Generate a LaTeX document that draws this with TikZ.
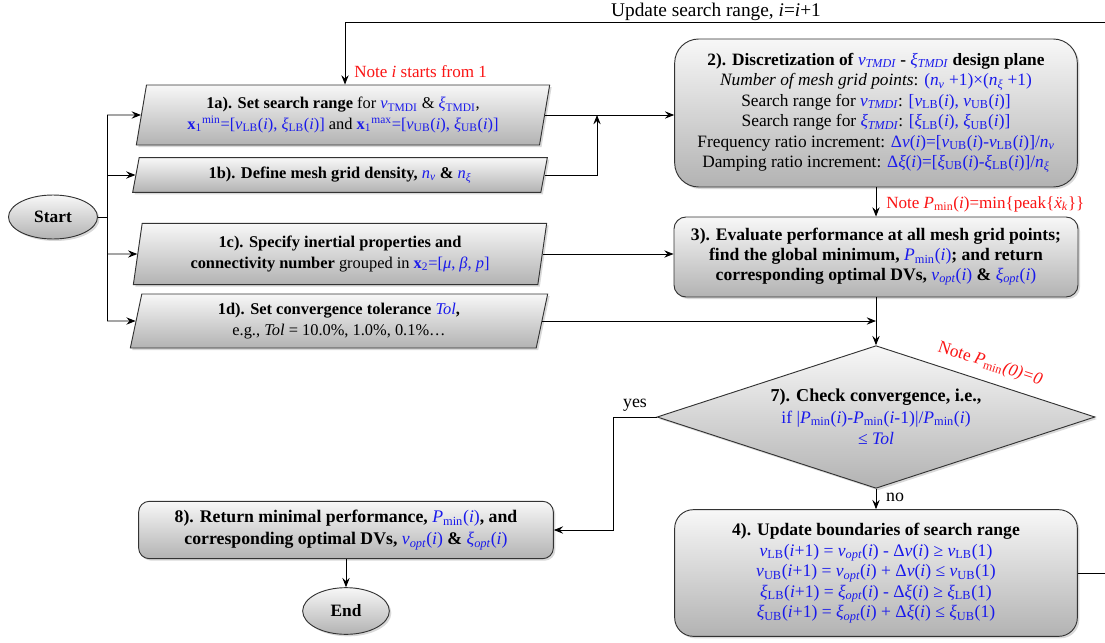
\documentclass[tikz,border=0pt]{standalone}
\usepackage{fontspec}
\setmainfont{Liberation Serif}
\usetikzlibrary{arrows.meta,shapes.geometric,shadows,calc}
\definecolor{tb}{RGB}{25,25,235}
\definecolor{tr}{RGB}{250,20,20}
\newcommand\sbs[1]{\textsubscript{#1}}
\newcommand\sps[1]{\textsuperscript{#1}}
\newcommand\bl[1]{{\color{tb}#1}}
\newcommand\myi{\textit{i}}
\newcommand\myxi{\textit{ξ}}
\newcommand\myv{\textit{v}}
\newcommand\fs[2]{\fontsize{#1}{#2}\selectfont}
\tikzset{
  box/.style={draw=black!80, line width=0.7pt, top color=black!3, bottom color=black!30,
    drop shadow={opacity=0.3,shadow xshift=1.5pt,shadow yshift=-1.5pt},
    align=center, font=\fs{12.3}{15.3}, inner sep=0pt},
  rbox/.style={box, rectangle, rounded corners=#1},
  para/.style={box, trapezium, trapezium left angle=#1, trapezium right angle={180-#1},
    trapezium stretches body=true},
  term/.style={box, ellipse, font=\fs{13}{15}\bfseries},
  dia/.style={box, diamond, aspect=3},
  arr/.style={-{Stealth[length=7pt,width=5.5pt,inset=2.5pt]}, line width=0.7pt},
  ln/.style={line width=0.7pt},
  lbl/.style={font=\fs{12.6}{15}, inner sep=0pt},
  note/.style={lbl, text=tr},
}
\begin{document}
\begin{tikzpicture}[x=0.75pt,y=-0.75pt]
\useasboundingbox (0,0) rectangle (1105,642);
% terminals
\node[term, minimum width=66.75pt, minimum height=33pt] (start) at (53,217) {Start};
\node[term, minimum width=65pt, minimum height=35pt] (end) at (346,611) {End};
% step 1 boxes
\node[para=74, minimum width=310pt, minimum height=45pt] (a1) at (343,115)
 {\textbf{1a). Set search range} for \bl{\myv\sbs{TMDI}} \& \bl{\myxi\sbs{TMDI}},\\
  \bl{\textbf{x}\sbs{1}\sps{min}=[\myv\sbs{LB}(\myi), \myxi\sbs{LB}(\myi)]} and
  \bl{\textbf{x}\sbs{1}\sps{max}=[\myv\sbs{UB}(\myi), \myxi\sbs{UB}(\myi)]}};
\node[para=68, minimum width=311pt, minimum height=26pt] (a2) at (340,175)
 {\textbf{1b). Define mesh grid density,} \bl{\textit{n\sbs{v}}} \textbf{\&} \bl{\textit{n\sbs{ξ}}}};
\node[para=76, minimum width=310pt, minimum height=46pt] (a3) at (340,254)
 {\textbf{1c). Specify inertial properties and}\\
  \textbf{connectivity number} grouped in \bl{\textbf{x}\sbs{2}=[\textit{μ}, \textit{β}, \textit{p}]}};
\node[para=72, minimum width=313pt, minimum height=40.5pt] (a4) at (339,321)
 {\textbf{1d). Set convergence tolerance} \bl{\textit{Tol}}\textbf{,}\\
  e.g., \textit{Tol} = 10.0\%, 1.0\%, 0.1\%…};
% step 2
\node[rbox=18pt, minimum width=302pt, minimum height=111pt, font=\fs{13}{15.3}] (s2) at (876,113)
 {\textbf{2). Discretization of} \bl{\textit{v\sbs{TMDI}}} \textbf{-} \bl{\textit{ξ\sbs{TMDI}}} \textbf{design plane}\\
  \textit{Number of mesh grid points}: \bl{(\textit{n\sbs{v}} +1)×(\textit{n\sbs{ξ}} +1)}\\
  Search range for \bl{\textit{v\sbs{TMDI}}}: \bl{[\myv\sbs{LB}(\myi), \myv\sbs{UB}(\myi)]}\\
  Search range for \bl{\textit{ξ\sbs{TMDI}}}: \bl{[\myxi\sbs{LB}(\myi), \myxi\sbs{UB}(\myi)]}\\
  Frequency ratio increment: \bl{Δ\myv(\myi)=[\myv\sbs{UB}(\myi)-\myv\sbs{LB}(\myi)]/\textit{n\sbs{v}}}\\
  Damping ratio increment: \bl{Δ\myxi(\myi)=[\myxi\sbs{UB}(\myi)-\myxi\sbs{LB}(\myi)]/\textit{n\sbs{ξ}}}};
% step 3
\node[rbox=9pt, minimum width=303pt, minimum height=60pt, font=\fs{13.2}{14.8}] (s3) at (876,257)
 {\textbf{3). Evaluate performance at all mesh grid points;}\\
  \textbf{find the global minimum,} \bl{\textit{P}\sbs{min}(\myi)}\textbf{; and return}\\
  \textbf{corresponding optimal DVs,} \bl{\textit{v\sbs{opt}}(\myi)} \textbf{\&} \bl{\textit{ξ\sbs{opt}}(\myi)}};
% step 7
\node[dia, minimum width=328.5pt, minimum height=107pt, font=\fs{13.2}{16}] (d7) at (876,417)
 {{\fs{13.6}{16}\textbf{7). Check convergence, i.e.,}}\\
  \bl{if |\textit{P}\sbs{min}(\myi)-\textit{P}\sbs{min}(\myi-1)|/\textit{P}\sbs{min}(\myi)}\\
  \bl{≤ \textit{Tol}}};
% step 4
\node[rbox=14pt, minimum width=302pt, minimum height=95pt, font=\fs{13.2}{15.4}] (s4) at (876,573)
 {\textbf{4). Update boundaries of search range}\\
  \bl{\myv\sbs{LB}(\myi+1) = \textit{v\sbs{opt}}(\myi) - Δ\myv(\myi) ≥ \myv\sbs{LB}(1)}\\
  \bl{\myv\sbs{UB}(\myi+1) = \textit{v\sbs{opt}}(\myi) + Δ\myv(\myi) ≤ \myv\sbs{UB}(1)}\\
  \bl{\myxi\sbs{LB}(\myi+1) = \textit{ξ\sbs{opt}}(\myi) - Δ\myxi(\myi) ≥ \myxi\sbs{LB}(1)}\\
  \bl{\myxi\sbs{UB}(\myi+1) = \textit{ξ\sbs{opt}}(\myi) + Δ\myxi(\myi) ≤ \myxi\sbs{UB}(1)}};
% step 8
\node[rbox=8pt, minimum width=311pt, minimum height=43pt, font=\fs{13.3}{16.5}] (s8) at (346,530)
 {\textbf{8). Return minimal performance,} \bl{\textit{P}\sbs{min}(\myi)}\textbf{, and}\\
  \textbf{corresponding optimal DVs,} \bl{\textit{v\sbs{opt}}(\myi)} \textbf{\&} \bl{\textit{ξ\sbs{opt}}(\myi)}};
% labels
\node[lbl, font=\fs{14.5}{16}] (upd) at (716,12) {Update search range, \myi=\myi+1};
\node[note, anchor=west, font=\fs{12.8}{15}] (n1) at (354,72) {Note \myi\ starts from 1};
\node[note, anchor=west, font=\fs{12.8}{15}] (n2) at (886,204) {Note \textit{P}\sbs{min}(\myi)=min\{peak\{\textit{\"x}\sbs{\textit{k}}\}\}};
\node[note, rotate=-18, font=\fs{13}{15}] (n3) at (990,364) {Note \textit{P}\sbs{min}\textit{(0)=0}};
\node[lbl, font=\fs{13.4}{15}] (yes) at (635,405) {yes};
\node[lbl, font=\fs{13.4}{15}] (no) at (895,497) {no};
% coordinates
\coordinate (b1) at (107,115);
\coordinate (b2) at (107,175);
\coordinate (b3) at (107,254);
\coordinate (b4) at (107,321);
\coordinate (j1) at (597,115);
\coordinate (yc) at (613,417);
\coordinate (o1) at (1105,573);
\coordinate (o2) at (1105,22);
\coordinate (t1) at (345,22);
% connectors
\draw[ln] (start.east) -- (start.east -| b1);
\draw[ln] (b1) -- (b4);
\draw[arr] (b1) -- (a1.west);
\draw[arr] (b2) -- (a2.west);
\draw[arr] (b3) -- (a3.west);
\draw[arr] (b4) -- (a4.west);
\draw[arr] (a1.east) -- (a1.east -| s2.west);
\draw[arr] (a2.east) -| (j1);
\draw[arr] (s2.south) -- (s3.north);
\draw[arr] (a3.east) -- (a3.east -| s3.west);
\draw[arr] (s3.south) -- (d7.north);
\draw[arr] (a4.east) -- (a4.east -| s3.south);
\draw[arr] (d7.west) -- (yc) |- (s8.east);
\draw[arr] (s8.south) -- (end.north);
\draw[arr] (d7.south) -- (s4.north);
\draw[ln] (s4.east) -- (o1);
\draw[arr] (o2) -- (t1) -- (t1 |- a1.north);
\end{tikzpicture}
\end{document}
